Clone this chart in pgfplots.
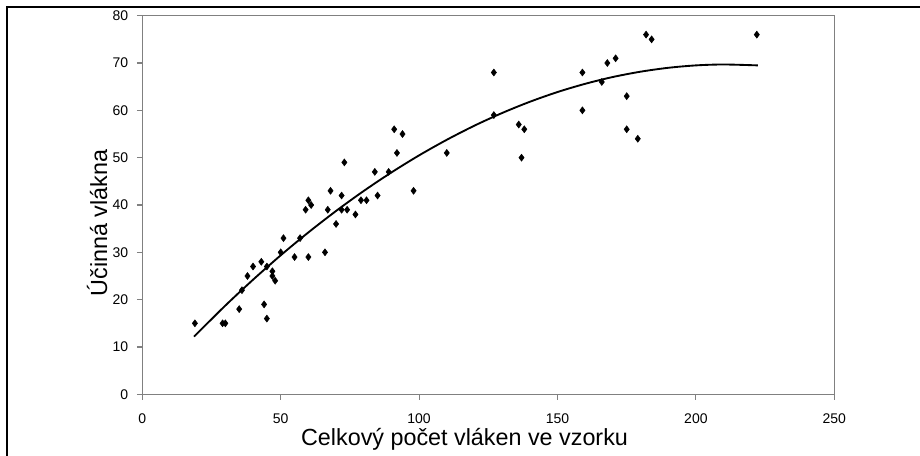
\documentclass[border=0pt]{standalone}
\usepackage{pgfplots}
\pgfplotsset{compat=1.18}
\usepackage{fontspec}
\setmainfont{Liberation Sans}
\begin{document}
\begin{tikzpicture}
\useasboundingbox (0pt,0pt) rectangle (690pt,-342pt);
\draw[line width=1.1pt] (5.25pt,-345pt) -- (5.25pt,-5.25pt) -- (692pt,-5.25pt);
\begin{axis}[
  at={(106.725pt,-295.725pt)}, anchor=south west,
  scale only axis, width=519pt, height=283.95pt,
  xmin=0,xmax=250,ymin=0,ymax=80,
  xtick={0,50,...,250}, ytick={0,10,...,80},
  axis line style={black!50, line width=1pt},
  tick style={black!50, line width=0.8pt},
  tick align=outside, major tick length=4pt,
  xtick pos=bottom, ytick pos=left,
  ticklabel style={font=\fontsize{10.5}{12}\selectfont},
  /pgf/number format/assume math mode=true,
  xticklabel style={yshift=-7pt},
  yticklabel style={xshift=-3pt},
  clip=false,
]
\addplot[only marks, mark=diamond*, mark size=2.6pt, black] coordinates {
(19,15) (29,15) (30,15) (35,18) (36,22) (38,25) (40,27) (43,28) (44,19) (45,16)
(45,27) (47,26) (47,25) (48,24) (50,30) (51,33) (55,29) (57,33) (59,39) (60,29)
(60,41) (61,40) (66,30) (67,39) (68,43) (70,36) (72,42) (72,39) (73,49) (74,39)
(77,38) (79,41) (81,41) (84,47) (85,42) (89,47) (91,56) (92,51) (94,55) (98,43)
(110,51) (127,68) (127,59) (136,57) (138,56) (137,50) (159,68) (159,60) (166,66) (168,70)
(171,71) (175,63) (175,56) (179,54) (182,76) (184,75) (222,76)
};
\addplot[black, line width=1.4pt, smooth, no marks] coordinates {
(18.7,12.2) (30,18.75) (40,24.21) (50,29.37) (60,34.21) (70,38.74) (80,42.97)
(90,46.88) (100,50.49) (110,53.78) (120,56.77) (130,59.44) (140,61.81) (150,63.87)
(160,65.61) (170,67.05) (180,68.17) (190,68.99) (200,69.50) (210,69.69) (222.4,69.50)
};
\end{axis}
\node[rotate=90] at (72.75pt,-167.25pt) {\fontsize{17.5}{20}\selectfont Účinná vlákna};
\node[inner sep=0pt] at (348.4pt,-329.25pt) {\fontsize{17.5}{20}\selectfont Celkový počet vláken ve vzorku};
\end{tikzpicture}
\end{document}
